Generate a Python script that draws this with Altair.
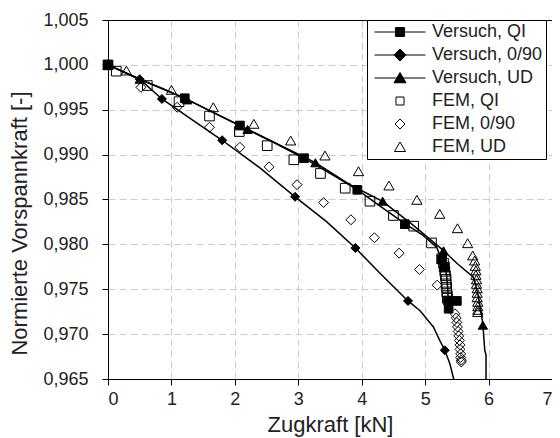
import altair as alt
import pandas as pd

FONT = "Liberation Sans"

x_ticks = [0, 1, 2, 3, 4, 5, 6, 7]
y_ticks = [0.965, 0.970, 0.975, 0.980, 0.985, 0.990, 0.995, 1.000, 1.005]

series_names = ["Versuch, QI", "Versuch, 0/90", "Versuch, UD", "FEM, QI", "FEM, 0/90", "FEM, UD"]

# ---- Versuch (measured curves) ----
vqi_line_x = [0, 0.25, 0.5, 0.85, 1.21, 1.6, 2.08, 2.6, 3.09, 3.5, 3.93, 4.3, 4.68, 4.95, 5.18,
              5.26, 5.31, 5.34, 5.35, 5.36, 5.36, 5.50, 5.37]
vqi_line_y = [1.0, 0.9992, 0.9984, 0.9974, 0.9963, 0.9949, 0.9932, 0.9914, 0.9896, 0.9879, 0.9861,
              0.9842, 0.9823, 0.9811, 0.9797, 0.9783, 0.9775, 0.9765, 0.9756, 0.9747, 0.97375,
              0.9737, 0.9728]
vqi_mark_x = [0, 1.21, 2.08, 3.09, 3.93, 4.68, 5.26, 5.31, 5.36, 5.50, 5.37]
vqi_mark_y = [1.0, 0.99628, 0.99324, 0.9896, 0.98608, 0.98225, 0.97832, 0.9775, 0.97375, 0.9737, 0.97283]

v090_line_x = [0, 0.5, 0.85, 1.3, 1.8, 2.4, 2.95, 3.45, 3.9, 4.3, 4.73, 4.92, 5.13, 5.23, 5.31, 5.39, 5.45]
v090_line_y = [1.0, 0.9984, 0.9962, 0.9940, 0.9916, 0.9885, 0.9853, 0.9825, 0.9796, 0.9767, 0.9737,
               0.9726, 0.9708, 0.9693, 0.9682, 0.9667, 0.9650]
v090_mark_x = [0, 0.5, 0.85, 1.8, 2.95, 3.9, 4.73, 5.31]
v090_mark_y = [1.0, 0.9984, 0.9962, 0.9916, 0.9853, 0.9796, 0.9737, 0.9682]

vud_line_x = [0, 0.5, 1.2, 2.15, 3.27, 3.8, 4.33, 4.8, 5.29, 5.5, 5.76, 5.83, 5.88, 5.91, 5.94, 5.96, 5.96]
vud_line_y = [1.0, 0.9984, 0.9963, 0.9930, 0.9891, 0.9867, 0.9848, 0.9822, 0.9793, 0.9779, 0.97635,
              0.9745, 0.9725, 0.9711, 0.9682, 0.9677, 0.9650]
vud_mark_x = [0, 0.5, 1.25, 2.2, 3.27, 4.33, 5.29, 5.91]
vud_mark_y = [1.0, 0.9984, 0.9961, 0.9928, 0.98909, 0.98481, 0.97928, 0.9710]

# ---- FEM (simulation points) ----
fqi_x = [0, 0.13, 0.62, 1.12, 1.60, 2.07, 2.51, 2.93, 3.35, 3.74, 4.13, 4.50, 4.82, 5.10, 5.26,
         5.29, 5.30, 5.31, 5.32, 5.33, 5.33, 5.34, 5.34, 5.35, 5.35]
fqi_y = [1.0, 0.9993, 0.9977, 0.9959, 0.9943, 0.99257, 0.9910, 0.98943, 0.98790, 0.98626, 0.98481,
         0.98322, 0.98203, 0.98016, 0.97840, 0.9779, 0.97746, 0.9770, 0.9765, 0.9761, 0.9756,
         0.9752, 0.9747, 0.9743, 0.9740]

f090_x = [0, 0.52, 1.09, 1.60, 2.08, 2.54, 2.98, 3.40, 3.83, 4.20, 4.59, 4.91, 5.19, 5.47,
          5.49, 5.50, 5.51, 5.52, 5.53, 5.54, 5.55, 5.55, 5.56, 5.56, 5.57, 5.57]
f090_y = [1.0, 0.9975, 0.99528, 0.99305, 0.99082, 0.98864, 0.98665, 0.98466, 0.98274, 0.98074,
          0.97902, 0.97720, 0.97546, 0.97227, 0.9718, 0.9713, 0.9708, 0.9703, 0.9698, 0.9693,
          0.9688, 0.9683, 0.9678, 0.9674, 0.9671, 0.9669]

fud_x = [0, 0.29, 1.0, 1.66, 2.30, 2.88, 3.42, 3.95, 4.43, 4.87, 5.23, 5.51, 5.67, 5.75,
         5.78, 5.79, 5.80, 5.80, 5.81, 5.81, 5.82, 5.82, 5.82, 5.83, 5.83, 5.83, 5.83]
fud_y = [1.0, 0.99937, 0.99722, 0.99528, 0.99343, 0.99157, 0.98990, 0.98815, 0.98656, 0.98496,
         0.98340, 0.98180, 0.98013, 0.97876, 0.9782, 0.9776, 0.9771, 0.9766, 0.9761, 0.9756,
         0.9751, 0.9746, 0.9741, 0.9736, 0.9731, 0.9727, 0.97245]

# ---- tables built from the arrays ----
def frame(name, xs, ys):
    return pd.DataFrame({"serie": name, "x": xs, "y": ys, "idx": range(len(xs))})

lines = pd.concat([
    frame(series_names[0], vqi_line_x, vqi_line_y),
    frame(series_names[1], v090_line_x, v090_line_y),
    frame(series_names[2], vud_line_x, vud_line_y),
])
marks = pd.concat([
    frame(series_names[3], fqi_x, fqi_y),
    frame(series_names[4], f090_x, f090_y),
    frame(series_names[5], fud_x, fud_y),
    frame(series_names[0], vqi_mark_x, vqi_mark_y),
    frame(series_names[1], v090_mark_x, v090_mark_y),
    frame(series_names[2], vud_mark_x, vud_mark_y),
])
legend_df = pd.DataFrame({"Legende": series_names,
                          "x": [vqi_line_x[0], v090_line_x[0], vud_line_x[0], fqi_x[0], f090_x[0], fud_x[0]],
                          "y": [vqi_line_y[0], v090_line_y[0], vud_line_y[0], fqi_y[0], f090_y[0], fud_y[0]]})


def edge_grid(test):
    color = {"condition": {"test": test, "value": "black"}, "value": "#cccccc"}
    dash = {"condition": {"test": test, "value": []}, "value": [7, 4]}
    return color, dash


xg_color, xg_dash = edge_grid("datum.value >= 6.99")
yg_color, yg_dash = edge_grid("datum.value >= 1.004")

x_enc = alt.X("x:Q", scale=alt.Scale(domain=[0, 7], nice=False, zero=False),
              axis=alt.Axis(values=x_ticks, title="Zugkraft [kN]", format="d",
                            titleY=52, titleBaseline="alphabetic", labelPadding=5,
                            gridColor=xg_color, gridDash=xg_dash))
y_enc = alt.Y("y:Q", scale=alt.Scale(domain=[0.965, 1.005], nice=False, zero=False),
              axis=alt.Axis(values=y_ticks, title="Normierte Vorspannkraft [-]",
                            labelExpr="replace(format(datum.value, '.3f'), '.', ',')",
                            labelPadding=14, titleX=-89, titleY=203, titleAngle=270,
                            titleAlign="center", titleBaseline="middle",
                            gridColor=yg_color, gridDash=yg_dash))

line_layer = alt.Chart(lines).mark_line(color="black", strokeWidth=1.5).encode(
    x=x_enc, y=y_enc, detail="serie:N", order="idx:Q")

marker_layer = alt.Chart(marks).mark_point(opacity=1, stroke="black", strokeWidth=1).encode(
    x=x_enc, y=y_enc,
    shape=alt.Shape("serie:N", legend=None, scale=alt.Scale(
        domain=series_names,
        range=["square", "diamond", "triangle-up", "square", "diamond", "triangle-up"])),
    fill=alt.Fill("serie:N", legend=None, scale=alt.Scale(
        domain=series_names,
        range=["black", "black", "black", "transparent", "transparent", "transparent"])),
    size=alt.Size("serie:N", legend=None, scale=alt.Scale(
        domain=series_names, range=[75, 105, 115, 75, 75, 115])),
)

legend_paths = [
    "M-5.1,0H-0.9M0.9,0H5.1M-0.9,-0.9H0.9V0.9H-0.9Z",
    "M-5.1,0H-1.2M1.2,0H5.1M0,-1.2L1.2,0L0,1.2L-1.2,0Z",
    "M-5.1,0H5.1M0,-1.1L1.2,0.95L-1.2,0.95Z",
    "M-0.8,-0.8H0.8V0.8H-0.8Z",
    "M0,-1L1,0L0,1L-1,0Z",
    "M0,-1L1.1,0.9L-1.1,0.9Z",
]
leg = dict(title=None, orient="none", legendX=259, legendY=0, strokeColor="black",
           fillColor="white", padding=3, symbolSize=100, symbolOffset=21, labelOffset=23,
           labelFont=FONT, labelFontSize=18, labelColor="#222222", rowPadding=5,
           symbolStrokeWidth=1, symbolStrokeColor="black", symbolOpacity=1, cornerRadius=0)

legend_layer = alt.Chart(legend_df).mark_point(opacity=0, stroke="black").encode(
    x=x_enc, y=y_enc,
    shape=alt.Shape("Legende:N", legend=alt.Legend(**leg),
                    scale=alt.Scale(domain=series_names, range=legend_paths)),
    fill=alt.Fill("Legende:N", legend=alt.Legend(**leg),
                  scale=alt.Scale(domain=series_names,
                                  range=["black", "black", "black", "white", "white", "white"])),
    stroke=alt.Stroke("Legende:N", legend=alt.Legend(**leg),
                      scale=alt.Scale(domain=series_names, range=["black"] * 6)),
)

chart = alt.layer(line_layer, marker_layer, legend_layer).resolve_scale(
    shape="independent", fill="independent", size="independent", stroke="independent"
).properties(
    width=444, height=359,
    autosize=alt.AutoSizeParams(type="none"),
    padding={"left": 100, "top": 12, "right": 0, "bottom": 58},
    background="white",
).configure_view(stroke="black", strokeWidth=1).configure_axis(
    labelFont=FONT, labelFontSize=18, labelColor="#222222",
    titleFont=FONT, titleFontSize=22, titleFontWeight="normal", titleColor="#222222",
    domainColor="black", domainWidth=1, tickColor="black", tickSize=6, tickWidth=1,
    grid=True, gridWidth=1,
)

chart.save("out.html", embed_options={"renderer": "svg", "actions": False})
